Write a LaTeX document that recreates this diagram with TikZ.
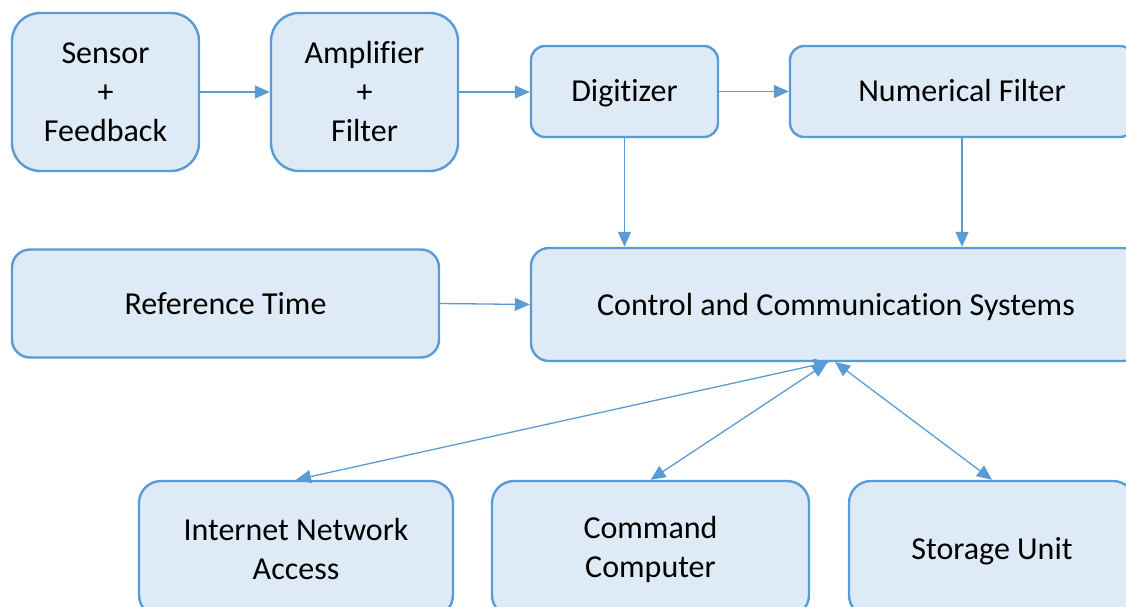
\documentclass[tikz,border=0pt]{standalone}
\usepackage{fontspec}
\setmainfont{Carlito}[Ligatures=NoCommon]
\usetikzlibrary{arrows.meta,calc}
\definecolor{boxfill}{HTML}{DEEAF6}
\definecolor{boxline}{HTML}{5B9BD5}
\begin{document}
\begin{tikzpicture}[x=1pt,y=-1pt,
  blk/.style={draw=boxline,fill=boxfill,line width=2.4pt,rounded corners=#1,inner sep=0pt,
    align=center,font=\fontsize{32}{39}\selectfont,anchor=center},
  blk/.default=20pt,
  oneline/.style={text height=24pt,text depth=3pt},
  conn/.style={draw=boxline,line width=1.3pt,-{Triangle[length=15pt,width=13pt]}},
  bconn/.style={draw=boxline,line width=1.3pt,{Triangle[length=15pt,width=13pt]}-{Triangle[length=15pt,width=13pt]}}]
\useasboundingbox (0,0) rectangle (1126,607);
\clip (0,0) rectangle (1126,607);
\node[blk=28pt,minimum width=187pt,minimum height=158pt] (sen) at (105.5,92) {Sensor\\+\\Feedback};
\node[blk=28pt,minimum width=187pt,minimum height=158pt] (amp) at (364.5,92) {Amplifier\\+\\Filter};
\node[blk=14pt,oneline,minimum width=187pt,minimum height=91pt] (dig) at (624.5,91.5) {Digitizer};
\node[blk=14pt,oneline,minimum width=344pt,minimum height=91pt] (nf) at (962,91.5) {Numerical Filter};
\node[blk=18pt,oneline,minimum width=427pt,minimum height=108pt] (ref) at (225.5,303.5) {Reference Time};
\node[blk=18pt,oneline,minimum width=610pt,minimum height=113pt] (ctrl) at (836,304.5) {Control and Communication Systems};
\node[blk=22pt,minimum width=314pt,minimum height=136pt] (inet) at (296,549) {Internet Network\\Access};
\node[blk=22pt,minimum width=317pt,minimum height=136pt] (cmd) at (650.5,549) {Command\\Computer};
\node[blk=22pt,oneline,minimum width=286pt,minimum height=136pt] (sto) at (992,549) {Storage Unit};
\coordinate (c1) at (829,362);
\coordinate (c2) at (827,363);
\coordinate (c3) at (835,362);
\draw[conn] (sen.east) -- (amp.west);
\draw[conn] (amp.east) -- (amp.east -| dig.west);
\draw[conn] (dig.east) -- (nf.west);
\draw[conn] (dig.south) -- (dig.south |- ctrl.north);
\draw[conn] (nf.south) -- (nf.south |- ctrl.north);
\draw[conn] (ref.east) -- (ctrl.west);
\draw[bconn] (inet.north) -- (c1);
\draw[bconn] (cmd.north) -- (c2);
\draw[bconn] (sto.north) -- (c3);
\end{tikzpicture}
\end{document}
